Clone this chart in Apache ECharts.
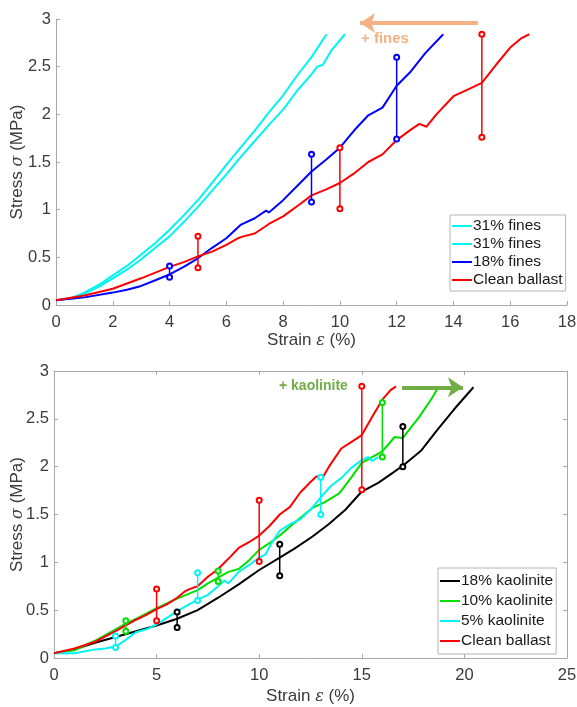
<!DOCTYPE html>
<html><head><meta charset="utf-8">
<script src="https://cdn.jsdelivr.net/npm/echarts@6/dist/echarts.min.js"></script>
<style>html,body{margin:0;padding:0;background:#fff}#c{width:577px;height:707px}</style>
</head><body><div id="c"></div>
<script>
// ---------- Top panel data (Strain %, Stress MPa) ----------
const fines31a = [[0,0.05],[0.5,0.07],[1,0.13],[1.5,0.21],[2,0.31],[2.5,0.41],[3,0.53],[3.5,0.65],[4,0.79],[4.5,0.94],[5,1.1],[5.5,1.28],[6,1.47],[6.5,1.65],[7,1.83],[7.5,2.02],[8,2.2],[8.5,2.41],[9,2.6],[9.53,2.84]];
const fines31b = [[0,0.05],[0.5,0.07],[1,0.12],[1.5,0.19],[2,0.28],[2.5,0.37],[3,0.48],[3.5,0.6],[4,0.72],[4.5,0.87],[5,1.03],[5.5,1.2],[6,1.37],[6.5,1.55],[7,1.72],[7.5,1.89],[8,2.05],[8.5,2.25],[9,2.42],[9.2,2.5],[9.4,2.52],[9.7,2.67],[10.18,2.84]];
const fines18 = [[0,0.05],[1,0.08],[2,0.13],[2.5,0.16],[3,0.2],[3.5,0.26],[4,0.32],[4.5,0.4],[5,0.49],[5.5,0.6],[6,0.7],[6.5,0.84],[7,0.91],[7.4,0.99],[7.5,0.97],[8,1.1],[8.6,1.28],[9,1.4],[9.5,1.52],[10,1.65],[10.5,1.83],[11,1.99],[11.5,2.07],[12,2.3],[12.5,2.45],[13,2.64],[13.64,2.84]];
const cleanBallast = [[0,0.05],[1,0.1],[2,0.17],[3,0.28],[4,0.4],[4.5,0.45],[5,0.51],[5.5,0.56],[6,0.63],[6.4,0.7],[6.6,0.72],[7,0.75],[7.5,0.85],[8,0.93],[8.6,1.06],[9,1.15],[9.5,1.21],[10,1.28],[10.5,1.38],[11,1.5],[11.5,1.58],[12,1.73],[12.5,1.84],[12.8,1.9],[13.05,1.87],[13.4,2.0],[14,2.19],[14.5,2.26],[15,2.33],[15.5,2.52],[16,2.7],[16.4,2.8],[16.67,2.84]];
// error bars: [strain, low, high]
const fines18Err = [[4,0.29,0.41],[9,1.08,1.58],[12,1.74,2.6]];
const cleanErr = [[5,0.39,0.72],[10,1.01,1.65],[15,1.76,2.84]];

// ---------- Bottom panel data ----------
const kaol18 = [[0,0.05],[1,0.09],[2,0.16],[3,0.22],[4,0.28],[5,0.34],[6,0.41],[7,0.5],[8,0.63],[9,0.77],[10,0.92],[11,1.05],[11.7,1.14],[12.6,1.27],[13.4,1.4],[14.2,1.55],[15,1.74],[15.8,1.83],[16.4,1.92],[17,2.01],[17.9,2.17],[18.7,2.39],[19.5,2.6],[20.44,2.83]];
const kaol10 = [[0,0.05],[1,0.08],[2,0.18],[3,0.3],[3.5,0.36],[4,0.41],[5,0.52],[6,0.62],[7,0.71],[7.5,0.78],[8,0.84],[8.5,0.9],[9,0.93],[9.5,1.02],[10,1.13],[10.5,1.2],[11,1.28],[11.7,1.41],[12.6,1.57],[13.2,1.63],[13.9,1.72],[14.5,1.89],[15,2.04],[15.5,2.1],[16,2.16],[16.6,2.31],[17,2.3],[17.8,2.52],[18.4,2.71],[18.7,2.82]];
const kaol5 = [[0,0.05],[1,0.05],[2,0.09],[2.5,0.1],[3,0.12],[3.5,0.19],[4,0.27],[4.5,0.3],[5,0.35],[5.5,0.42],[6,0.49],[6.5,0.55],[7,0.61],[7.5,0.66],[8,0.75],[8.3,0.81],[8.5,0.78],[9,0.9],[9.5,0.97],[10,1.05],[10.3,1.08],[10.6,1.2],[11,1.33],[11.5,1.4],[12,1.45],[12.5,1.55],[13,1.68],[13.5,1.8],[14,1.88],[14.5,1.99],[15,2.07],[15.3,2.1],[15.5,2.06],[15.8,2.1]];
const kaol18Err = [[6,0.32,0.48],[11,0.86,1.19],[17,2.0,2.42]];
const kaol10Err = [[3.5,0.28,0.39],[8,0.8,0.91],[16,2.1,2.67]];
const kaol5Err = [[3,0.11,0.23],[7,0.6,0.89],[13,1.5,1.89]];

const topLegend = ['31% fines','31% fines#2','18% fines','Clean ballast'];
const bottomLegend = ['18% kaolinite','10% kaolinite','5% kaolinite','Clean ballast'];
const yTicks = ['0','0.5','1','1.5','2','2.5','3'];

const FONT = 'Liberation Sans, Arial, Helvetica, sans-serif';
const AX = '#a8a8a8';
const TXT = '#3a3a3a';

const chart = echarts.init(document.getElementById('c'), null, {renderer:'canvas'});

function lineS(name, data, color, gi, extra){
  return Object.assign({type:'line', name, data, xAxisIndex:gi, yAxisIndex:gi, symbol:'none', showSymbol:false,
    lineStyle:{color, width:2}, itemStyle:{color}, animation:false, silent:true, z:2}, extra||{});
}
function errS(list, color, gi){
  return list.map(e => ({type:'line', data:[[e[0],e[1]],[e[0],e[2]]], xAxisIndex:gi, yAxisIndex:gi,
    symbol:'emptyCircle', symbolSize:5, showSymbol:true, lineStyle:{color, width:1.5},
    itemStyle:{color, borderColor:color, borderWidth:1.2}, animation:false, silent:true, z:3}));
}
const richName = {g:{fontStyle:'italic', fontFamily:'DejaVu Serif, serif', fontSize:16, color:TXT}};
function xA(gi, max, interval, extra){
  return Object.assign({gridIndex:gi, type:'value', min:0, max, interval, nameMoveOverlap:false,
    axisLine:{show:true, onZero:false, lineStyle:{color:AX, width:1}},
    axisTick:{show:true, inside:true, length:4, lineStyle:{color:AX}},
    axisLabel:{color:TXT, fontSize:16.5, fontFamily:FONT, margin:9},
    splitLine:{show:false}}, extra||{});
}
function yA(gi, extra){
  return Object.assign({gridIndex:gi, type:'value', min:0, max:3, interval:0.5, nameMoveOverlap:false,
    axisLine:{show:true, onZero:false, lineStyle:{color:AX, width:1}},
    axisTick:{show:true, inside:true, length:4, lineStyle:{color:AX}},
    axisLabel:{color:TXT, fontSize:16.5, fontFamily:FONT, margin:5, formatter:(v)=>yTicks[Math.round(v*2)]},
    splitLine:{show:false}}, extra||{});
}
const xName = {name:'Strain {g|ε} (%)', nameLocation:'middle', nameTextStyle:{color:TXT, fontSize:17, fontFamily:FONT, rich:richName}};
const yName = {name:'Stress {g|σ} (MPa)', nameLocation:'middle', nameTextStyle:{color:TXT, fontSize:17, fontFamily:FONT, rich:richName}};

const legendBase = {orient:'vertical', selectedMode:false, backgroundColor:'#fff', borderColor:'#b4b4b4', borderWidth:1,
  icon:'rect', itemWidth:20, itemHeight:2, borderRadius:0,
  textStyle:{fontSize:15.5, fontFamily:FONT, color:'#1a1a1a', padding:[0,0,0,-4]},
  formatter:(n)=>n.replace('#2','')};

const series = [
  lineS('31% fines', fines31a, '#00f4f4', 0, {
    markLine:{silent:true, animation:false, symbol:['none','arrow'], symbolSize:15, label:{show:false},
      lineStyle:{color:'#F4B183', width:4, type:'solid'},
      data:[[{coord:[14.86,2.958]},{coord:[10.71,2.958]}]]}}),
  lineS('31% fines#2', fines31b, '#00f4f4', 0),
  lineS('18% fines', fines18, '#0000ff', 0),
  lineS('Clean ballast', cleanBallast, '#ff0000', 0),
  ...errS(fines18Err, '#0000ff', 0),
  ...errS(cleanErr, '#ff0000', 0),
  lineS('18% kaolinite', kaol18, '#000000', 1, {
    markLine:{silent:true, animation:false, symbol:['none','arrow'], symbolSize:15, label:{show:false},
      lineStyle:{color:'#70AD47', width:4, type:'solid'},
      data:[[{coord:[16.96,2.83]},{coord:[19.93,2.83]}]]}}),
  lineS('10% kaolinite', kaol10, '#00e000', 1),
  lineS('5% kaolinite', kaol5, '#00f4f4', 1),
  lineS('Clean ballast', cleanBallast, '#ff0000', 1),
  ...errS(kaol18Err, '#000000', 1),
  ...errS(kaol10Err, '#00e000', 1),
  ...errS(kaol5Err, '#00f4f4', 1),
  ...errS(cleanErr, '#ff0000', 1)
];

chart.setOption({
  backgroundColor:'#fff',
  animation:false,
  textStyle:{fontFamily:FONT},
  grid:[
    {left:56, top:19, width:511, height:286, outerBoundsMode:'none', containLabel:false},
    {left:54, top:371, width:513, height:287, outerBoundsMode:'none', containLabel:false}
  ],
  xAxis:[
    xA(0, 18, 2, Object.assign({}, xName, {nameGap:27})),
    xA(1, 25, 5, Object.assign({}, xName, {nameGap:30})),
    xA(1, 25, 5, {position:'top', axisLabel:{show:false}})
  ],
  yAxis:[
    yA(0, Object.assign({}, yName, {nameGap:30})),
    yA(1, Object.assign({}, yName, {nameGap:28})),
    yA(1, {position:'right', axisLabel:{show:false}})
  ],
  legend:[
    Object.assign({}, legendBase, {data:topLegend, left:450, top:215, padding:[3,3,3,2], itemGap:2}),
    Object.assign({}, legendBase, {data:bottomLegend, left:438, top:568, padding:[5,3,5,2], itemGap:4})
  ],
  graphic:[
    {type:'text', left:361, top:31, silent:true, style:{text:'+ fines', fill:'#F4B183', font:'bold 15px '+FONT}},
    {type:'text', left:279, top:379, silent:true, style:{text:'+ kaolinite', fill:'#70AD47', font:'bold 14px '+FONT}}
  ],
  series
});
</script>
</body></html>
